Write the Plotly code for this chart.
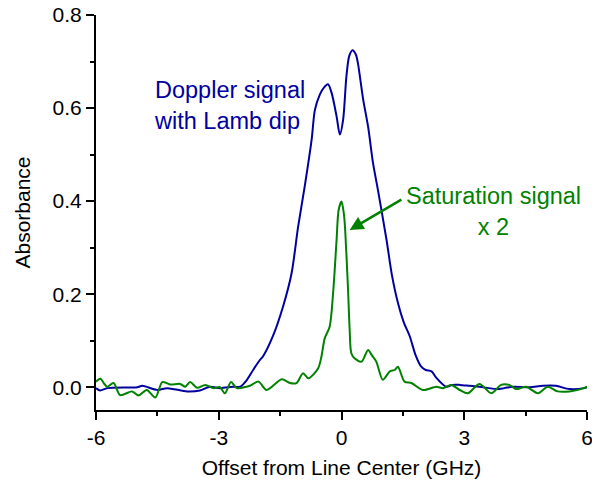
import plotly.graph_objects as go

# Doppler signal (blue)
doppler_x = [-6.00, -5.90, -5.72, -4.99, -4.87, -4.50, -4.26, -3.77, -3.46, -3.21, -2.97, -2.65,
             -2.48, -2.31, -2.16, -1.99, -1.92, -1.68, -1.43, -1.22, -1.06, -0.90, -0.73, -0.65,
             -0.53, -0.43, -0.33, -0.24, -0.12, -0.04, 0.04, 0.12, 0.19, 0.27, 0.35, 0.40, 0.53,
             0.65, 0.77, 0.89, 1.10, 1.23, 1.38, 1.52, 1.67, 1.81, 1.95, 2.06, 2.20, 2.32, 2.56,
             2.71, 2.89, 3.13, 3.37, 3.78, 3.98, 4.19, 4.59, 4.92, 5.24, 5.57, 5.93, 6.00]
doppler_y = [-0.002, -0.007, -0.002, 0.000, 0.003, -0.006, -0.002, -0.009, -0.007, 0.001, -0.002, 0.001,
             0.001, 0.016, 0.037, 0.059, 0.066, 0.109, 0.173, 0.245, 0.345, 0.431, 0.532, 0.596,
             0.629, 0.644, 0.651, 0.632, 0.582, 0.543, 0.575, 0.668, 0.712, 0.724, 0.715, 0.697, 0.618,
             0.560, 0.482, 0.424, 0.317, 0.242, 0.181, 0.140, 0.109, 0.069, 0.044, 0.037, 0.034, 0.020, 0.001,
             0.005, 0.005, 0.003, 0.001, -0.004, -0.002, 0.001, 0.000, 0.003, 0.003, -0.004, -0.002, 0.000]

# Saturation signal x 2 (green)
sat_x = [-6.00, -5.89, -5.81, -5.73, -5.57, -5.41, -5.12, -4.96, -4.76, -4.55, -4.38, -4.19, -3.94,
         -3.82, -3.70, -3.53, -3.33, -3.13, -2.97, -2.85, -2.70, -2.56, -2.32, -2.24, -2.03, -1.83,
         -1.46, -1.26, -1.10, -0.94, -0.81, -0.57, -0.49, -0.41, -0.29, -0.20, -0.12, -0.07, 0.00,
         0.06, 0.09, 0.16, 0.20, 0.24, 0.32, 0.49, 0.65, 0.74, 0.85, 1.01, 1.18, 1.30, 1.38, 1.54,
         1.71, 1.99, 2.32, 2.48, 2.68, 2.89, 3.09, 3.37, 3.66, 3.90, 4.10, 4.27, 4.51, 4.80, 5.04,
         5.28, 5.57, 5.93, 6.00]
sat_y = [0.012, 0.018, 0.009, 0.001, 0.009, -0.017, -0.009, -0.018, -0.006, -0.022, 0.011, 0.006, 0.007,
         0.001, 0.011, -0.001, 0.005, -0.002, 0.000, -0.013, 0.011, -0.002, 0.001, 0.003, 0.012, -0.006,
         0.017, 0.009, 0.009, 0.030, 0.019, 0.041, 0.066, 0.105, 0.130, 0.209, 0.317, 0.381, 0.399,
         0.371, 0.338, 0.209, 0.123, 0.073, 0.062, 0.055, 0.080, 0.069, 0.055, 0.016, 0.034, 0.037, 0.044, 0.012,
         0.009, -0.006, 0.001, -0.002, 0.005, -0.006, -0.013, 0.007, -0.013, 0.005, 0.005, -0.004, 0.001, -0.013, 0.001,
         -0.009, -0.009, -0.002, 0.001]

x_tickvals = [-6, -3, 0, 3, 6]
x_ticktext = ["-6", "-3", "0", "3", "6"]
y_tickvals = [0.0, 0.2, 0.4, 0.6, 0.8]
y_ticktext = ["0.0", "0.2", "0.4", "0.6", "0.8"]

BLUE = "rgb(0,0,160)"
GREEN = "rgb(0,130,0)"
FONT = "Arial, Liberation Sans, sans-serif"

fig = go.Figure()
fig.add_trace(go.Scatter(x=doppler_x, y=doppler_y, mode="lines",
                         line=dict(color=BLUE, width=2, shape="spline", smoothing=0.8)))
fig.add_trace(go.Scatter(x=sat_x, y=sat_y, mode="lines",
                         line=dict(color=GREEN, width=2, shape="spline", smoothing=0.8)))

fig.add_annotation(x=-4.62, y=0.605, xref="x", yref="y", xanchor="left", yanchor="middle",
                   align="left", showarrow=False,
                   text="Doppler signal<br>with Lamb dip",
                   font=dict(family=FONT, size=23.5, color=BLUE))
fig.add_annotation(x=3.71, y=0.377, xref="x", yref="y", xanchor="center", yanchor="middle",
                   align="center", showarrow=False,
                   text="Saturation signal<br>x 2",
                   font=dict(family=FONT, size=23.5, color=GREEN))
fig.add_annotation(x=0.20, y=0.338, xref="x", yref="y", ax=1.50, ay=0.405, axref="x", ayref="y",
                   text="", showarrow=True, arrowhead=2, arrowsize=1.1, arrowwidth=2.5,
                   arrowcolor=GREEN)

fig.update_layout(
    width=592, height=485,
    margin=dict(l=96, r=5, t=15, b=75),
    paper_bgcolor="white", plot_bgcolor="white",
    showlegend=False,
    font=dict(family=FONT, size=21, color="black"),
)
fig.update_xaxes(range=[-6, 6], showgrid=False, zeroline=False, automargin=False,
                 showline=True, linecolor="black", linewidth=2,
                 ticks="outside", ticklen=8, tickwidth=2, tickcolor="black",
                 tickvals=x_tickvals, ticktext=x_ticktext, ticklabeloverflow="allow",
                 minor=dict(ticks="outside", ticklen=4, tickwidth=2, tickcolor="black",
                            tickvals=[-4.5, -1.5, 1.5, 4.5]),
                 title=dict(text="Offset from Line Center (GHz)", font=dict(size=21), standoff=12))
fig.update_yaxes(range=[-0.049, 0.8], showgrid=False, zeroline=False, automargin=False,
                 showline=True, linecolor="black", linewidth=2,
                 ticks="outside", ticklen=8, tickwidth=2, tickcolor="black",
                 tickvals=y_tickvals, ticktext=y_ticktext,
                 minor=dict(ticks="outside", ticklen=4, tickwidth=2, tickcolor="black",
                            tickvals=[0.1, 0.3, 0.5, 0.7]),
                 title=dict(text="Absorbance", font=dict(size=21), standoff=16))

fig.write_html("out.html", config={"displayModeBar": False},
               post_script="document.body.style.margin='0';document.body.style.overflow='hidden';")
